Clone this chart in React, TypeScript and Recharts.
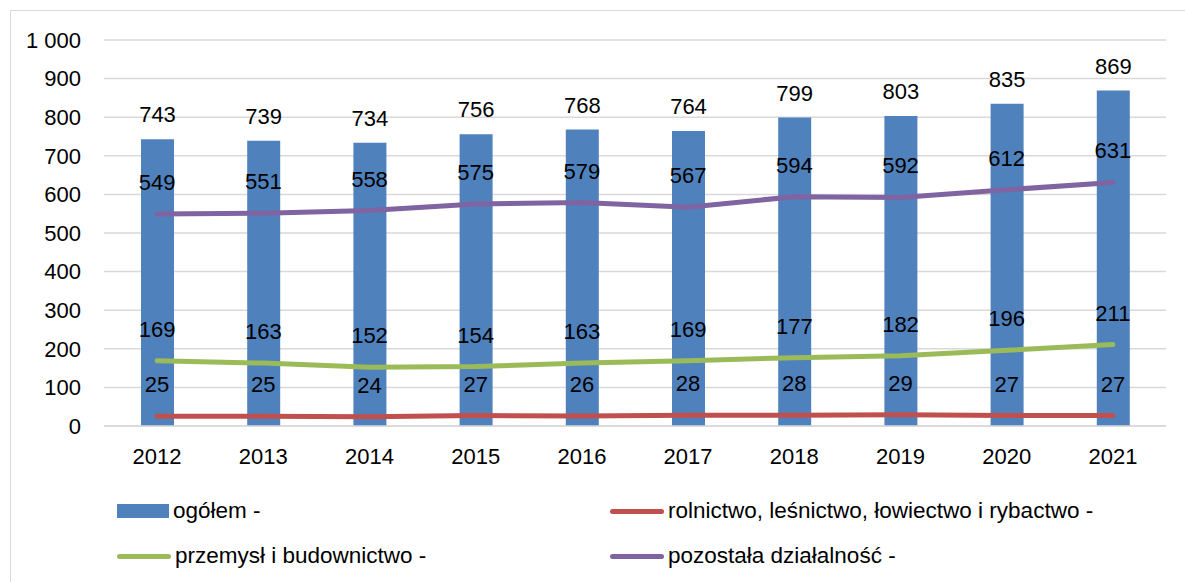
import React from "react";
import {
  ComposedChart,
  Bar,
  Line,
  XAxis,
  YAxis,
  CartesianGrid,
  LabelList,
  Legend,
} from "recharts";

const years = ["2012", "2013", "2014", "2015", "2016", "2017", "2018", "2019", "2020", "2021"];
const ogolem = [743, 739, 734, 756, 768, 764, 799, 803, 835, 869];
const rolnictwo = [25, 25, 24, 27, 26, 28, 28, 29, 27, 27];
const przemysl = [169, 163, 152, 154, 163, 169, 177, 182, 196, 211];
const pozostala = [549, 551, 558, 575, 579, 567, 594, 592, 612, 631];
const yTicks = [0, 100, 200, 300, 400, 500, 600, 700, 800, 900, 1000];

const data = years.map((year, i) => ({
  year,
  ogolem: ogolem[i],
  rolnictwo: rolnictwo[i],
  przemysl: przemysl[i],
  pozostala: pozostala[i],
}));

const FONT = "'Liberation Sans', Arial, sans-serif";
const FS = 22;
const BLUE = "#4f81bd";
const RED = "#c0504d";
const GREEN = "#9bbb59";
const PURPLE = "#8064a2";

// thousands separated with a space, like "1 000"
const fmt = (v: number) => String(v).replace(/\B(?=(\d{3})+(?!\d))/g, " ");

const legendItems = [
  { label: "ogółem -", color: BLUE, kind: "bar", left: 117, top: 27 },
  { label: "rolnictwo, leśnictwo, łowiectwo i rybactwo -", color: RED, kind: "line", left: 610, top: 27 },
  { label: "przemysł i budownictwo -", color: GREEN, kind: "line", left: 117, top: 72 },
  { label: "pozostała działalność -", color: PURPLE, kind: "line", left: 610, top: 72 },
];

function LegendBox() {
  return (
    <div style={{ position: "relative", width: 1185, height: 106, fontFamily: FONT }}>
      {legendItems.map((it) => (
        <div
          key={it.label}
          style={{ position: "absolute", left: it.left, top: it.top, display: "flex", alignItems: "center", height: 16 }}
        >
          {it.kind === "bar" ? (
            <span style={{ display: "inline-block", width: 52, height: 14, background: it.color }} />
          ) : (
            <span style={{ display: "inline-block", width: 54, height: 5, borderRadius: 3, background: it.color }} />
          )}
          <span style={{ marginLeft: 4, fontSize: 22.5, color: "#000", whiteSpace: "nowrap" }}>{it.label}</span>
        </div>
      ))}
    </div>
  );
}

export default function App() {
  return (
    <div style={{ position: "relative", width: 1185, height: 582, overflow: "hidden", background: "#fff" }}>
      <style>{"body{margin:0;overflow:hidden}"}</style>
      <div
        style={{
          position: "absolute",
          left: 10,
          top: 10,
          width: 1200,
          height: 600,
          border: "1px solid #d9d9d9",
        }}
      />
      <div style={{ position: "absolute", left: 0, top: 0 }}>
        <ComposedChart
          width={1185}
          height={582}
          data={data}
          margin={{ top: 40, right: 19, bottom: 0, left: 0 }}
          style={{ fontFamily: FONT }}
        >
          <CartesianGrid vertical={false} stroke="#d9d9d9" strokeWidth={1.5} />
          <XAxis
            dataKey="year"
            height={50}
            tickLine={false}
            tickSize={0}
            tickMargin={22}
            axisLine={{ stroke: "#d9d9d9", strokeWidth: 1.5 }}
            tick={{ fill: "#000", fontSize: FS }}
            interval={0}
          />
          <YAxis
            width={104}
            domain={[0, 1000]}
            ticks={yTicks}
            tickFormatter={fmt}
            axisLine={false}
            tickLine={false}
            tickSize={0}
            tickMargin={23}
            tick={{ fill: "#000", fontSize: FS }}
            interval={0}
          />
          <Legend verticalAlign="bottom" content={() => <LegendBox />} />
          <Bar dataKey="ogolem" fill={BLUE} barSize={33} isAnimationActive={false}>
            <LabelList dataKey="ogolem" position="top" offset={17} fill="#000" fontSize={FS} />
          </Bar>
          <Line
            dataKey="rolnictwo"
            stroke={RED}
            strokeWidth={5}
            dot={false}
            strokeLinecap="round"
            isAnimationActive={false}
          >
            <LabelList dataKey="rolnictwo" position="top" offset={24} fill="#000" fontSize={FS} />
          </Line>
          <Line
            dataKey="przemysl"
            stroke={GREEN}
            strokeWidth={5}
            dot={false}
            strokeLinecap="round"
            isAnimationActive={false}
          >
            <LabelList dataKey="przemysl" position="top" offset={24} fill="#000" fontSize={FS} />
          </Line>
          <Line
            dataKey="pozostala"
            stroke={PURPLE}
            strokeWidth={5}
            dot={false}
            strokeLinecap="round"
            isAnimationActive={false}
          >
            <LabelList dataKey="pozostala" position="top" offset={24} fill="#000" fontSize={FS} />
          </Line>
        </ComposedChart>
      </div>
    </div>
  );
}
